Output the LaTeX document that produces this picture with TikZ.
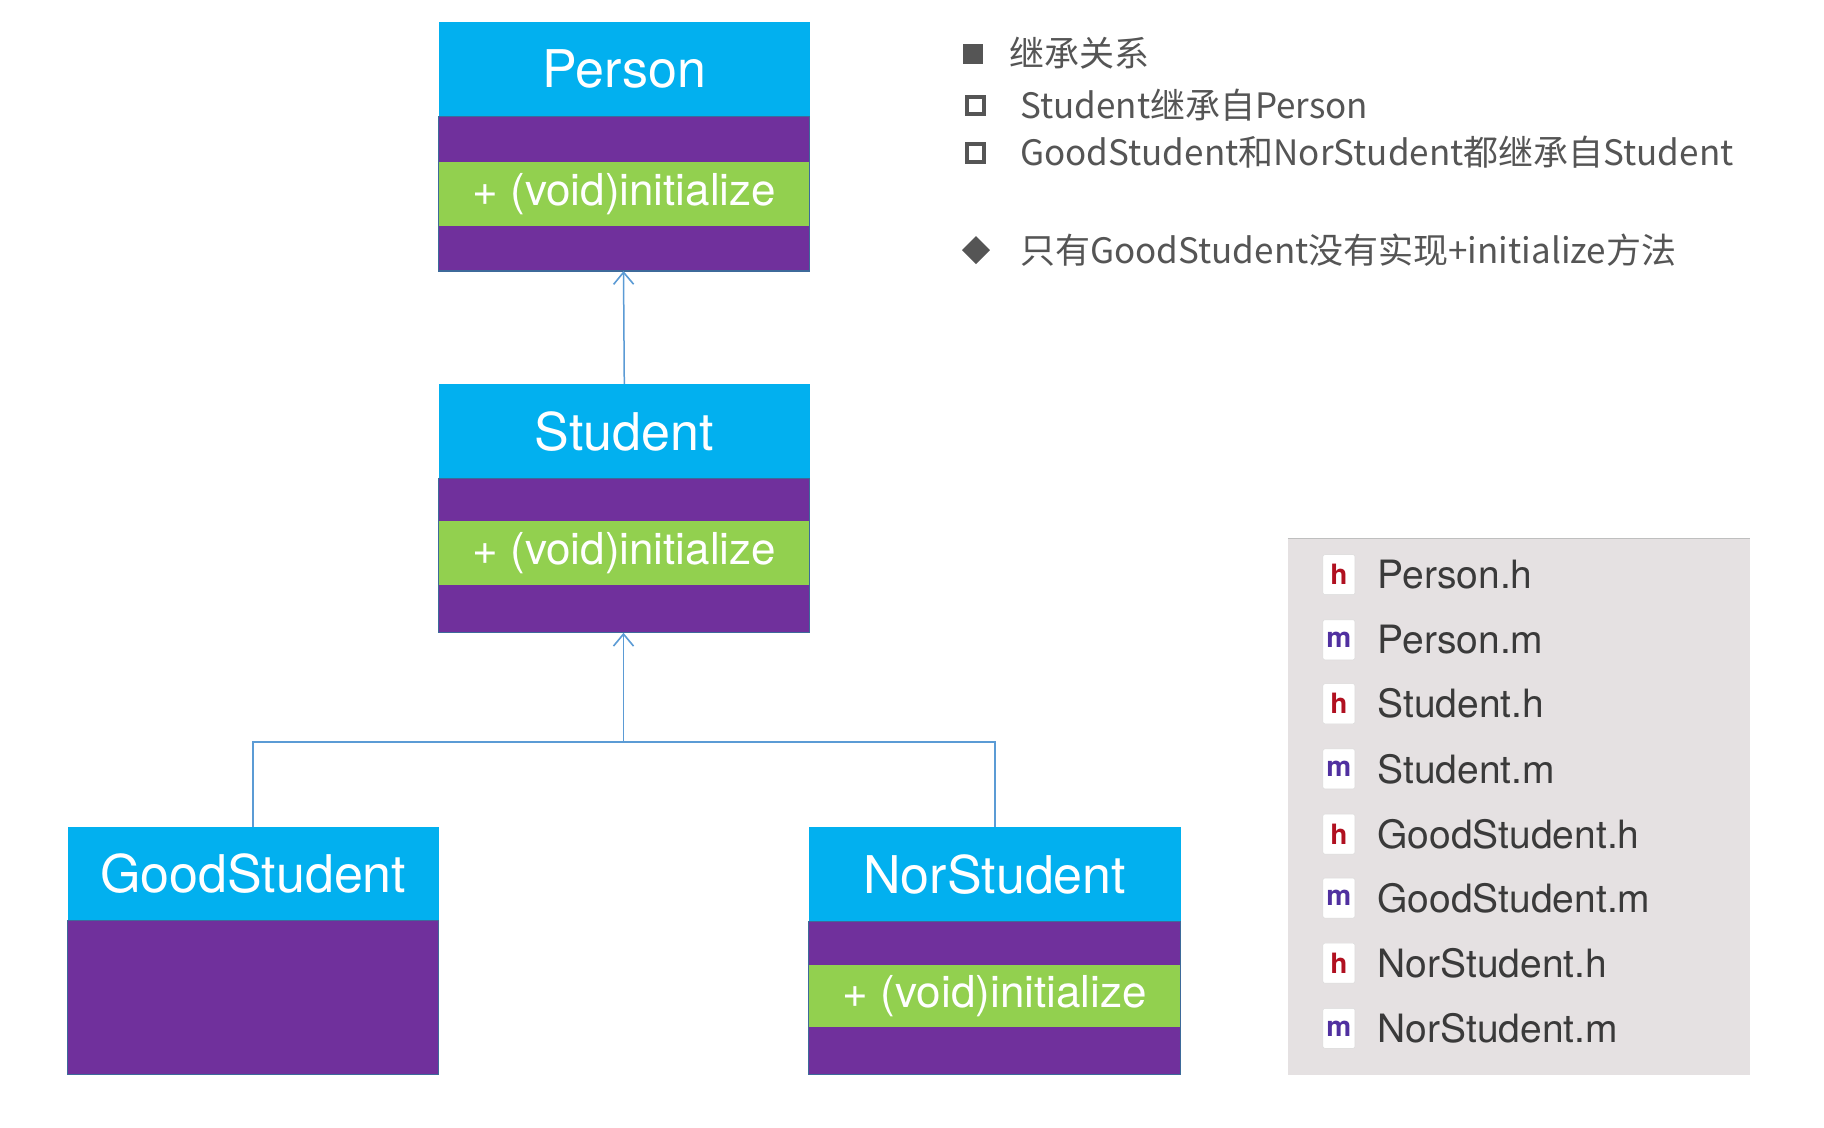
\documentclass[tikz,border=0pt]{standalone}
\usepackage{fontspec}
\setmainfont{TeX Gyre Heros}
\newfontfamily\cjk{Noto Sans CJK SC}
\usetikzlibrary{arrows.meta}
\definecolor{cyanB}{HTML}{02B0EF}
\definecolor{purp}{HTML}{70309C}
\definecolor{grn}{HTML}{92D04F}
\definecolor{edge}{HTML}{3D6A9A}
\definecolor{lineB}{HTML}{5B9BD5}
\definecolor{txt}{HTML}{555555}
\definecolor{ftxt}{HTML}{3A3A3A}
\definecolor{panel}{HTML}{E5E1E2}
\definecolor{hred}{HTML}{B01020}
\definecolor{mpur}{HTML}{5030A0}
\begin{document}
\begin{tikzpicture}[x=1.1635pt,y=-1.1635pt,
  hd/.style={fill=cyanB,draw=none,text=white,font=\fontsize{52}{56}\selectfont},
  gr/.style={fill=grn,draw=none,text=white,font=\fontsize{44}{48}\selectfont},
  bd/.style={draw=edge,line width=1.2pt},
  conn/.style={draw=lineB,line width=1.5pt},
  tip/.style={-{Straight Barb[length=12pt,width=20pt,line width=1.6pt]}},
  lg/.style={anchor=west,text=txt,font=\cjk\fontsize{35}{38}\selectfont,inner sep=0},
  fl/.style={anchor=west,text=ftxt,font=\fontsize{39}{42}\selectfont,inner sep=0},
  ic/.style={draw=gray!30,fill=white,rounded corners=2pt,minimum width=32pt,minimum height=40pt,inner sep=0,font=\bfseries\fontsize{28}{30}\selectfont}]
\useasboundingbox (0,0) rectangle (1568,969.5);
\fill[white] (0,0) rectangle (1568,969.5);
% Person
\fill[purp] (377,100) rectangle (696,233);
\node[hd,minimum width=319*1.1635pt,minimum height=81*1.1635pt,anchor=north west] (ph) at (377,19) {Person};
\node[gr,minimum width=319*1.1635pt,minimum height=55*1.1635pt,anchor=north west] (pm) at (377,139) {+ (void)initialize};
\draw[bd] (377,100) rectangle (696,233);
\coordinate (pb) at (536,233);
% Student
\fill[purp] (377,411) rectangle (696,544);
\node[hd,minimum width=319*1.1635pt,minimum height=81*1.1635pt,anchor=north west] (sh) at (377,330) {Student};
\node[gr,minimum width=319*1.1635pt,minimum height=55*1.1635pt,anchor=north west] (sm) at (377,448) {+ (void)initialize};
\draw[bd] (377,411) rectangle (696,544);
\coordinate (sb) at (536,544);
% GoodStudent
\fill[purp] (58,791) rectangle (377,924);
\node[hd,minimum width=319*1.1635pt,minimum height=80*1.1635pt,anchor=north west] (gh) at (58,711) {GoodStudent};
\draw[bd] (58,791) rectangle (377,924);
% NorStudent
\fill[purp] (695,792) rectangle (1015,924);
\node[hd,minimum width=320*1.1635pt,minimum height=81*1.1635pt,anchor=north west] (nh) at (695,711) {NorStudent};
\node[gr,minimum width=320*1.1635pt,minimum height=54*1.1635pt,anchor=north west] (nm) at (695,829) {+ (void)initialize};
\draw[bd] (695,792) rectangle (1015,924);
% connectors
\draw[conn,tip] (sh.north) -- (pb);
\coordinate (j) at (536,638);
\draw[conn,tip] (gh.north) |- (j) -- (sb);
\draw[conn] (nh.north) |- (j);
% legend
\fill[txt] (828,38) rectangle (845,55);
\node[lg] (l1) at (868,46) {继承关系};
\draw[txt,line width=4pt] (831,83) rectangle (846,98);
\node[lg] (l2) at (877,90) {Student继承自Person};
\draw[txt,line width=4pt] (831,124) rectangle (846,139);
\node[lg] (l3) at (877,131) {GoodStudent和NorStudent都继承自Student};
\fill[txt] (839,203) -- (851,215) -- (839,227) -- (827,215) -- cycle;
\node[lg] (l4) at (877,215) {只有GoodStudent没有实现+initialize方法};
% file panel
\fill[panel] (1107,463) rectangle (1504,924);
\draw[gray!50,line width=1.5pt] (1107,463) -- (1504,463);
\foreach \y/\e/\n/\c in {494/h/Person.h/hred,550/m/Person.m/mpur,605/h/Student.h/hred,661/m/Student.m/mpur,717/h/GoodStudent.h/hred,772/m/GoodStudent.m/mpur,828/h/NorStudent.h/hred,884/m/NorStudent.m/mpur}{
  \node[ic,text=\c] (i\y) at (1151,\y) {\e};
  \node[fl] (f\y) at (1184,\y) {\n};
}
\end{tikzpicture}
\end{document}
